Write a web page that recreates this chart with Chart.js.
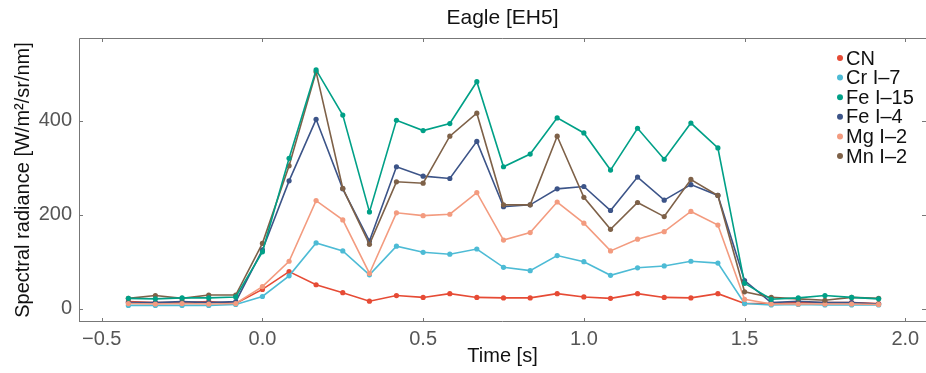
<!DOCTYPE html>
<html>
<head>
<meta charset="utf-8">
<script src="https://cdn.jsdelivr.net/npm/chart.js@4.4.0/dist/chart.umd.min.js"></script>
<style>
  html, body { margin: 0; padding: 0; background: #fff; }
</style>
</head>
<body>
<canvas id="chart" width="926" height="373"></canvas>
<script>
// time of each frame [s]
const times = [-0.417, -0.333, -0.25, -0.167, -0.083, 0, 0.083, 0.167, 0.25, 0.333, 0.417, 0.5, 0.583, 0.667,
  0.75, 0.833, 0.917, 1.0, 1.083, 1.167, 1.25, 1.333, 1.417, 1.5, 1.583, 1.667, 1.75, 1.833, 1.917];

const cn   = [15, 13, 13, 15, 11, 41, 79, 51, 34, 16, 28, 24, 32, 24, 23, 23, 32, 25, 22, 32, 24, 23, 32, 11, 11, 13, 13, 13, 11];
const cr7  = [7, 7, 7, 7, 9, 26, 70, 140, 123, 72, 133, 120, 116, 127, 88, 81, 113, 100, 71, 87, 91, 101, 97, 11, 8, 9, 8, 8, 8];
const fe15 = [22, 21, 23, 23, 25, 121, 320, 508, 412, 206, 401, 379, 394, 483, 302, 329, 406, 374, 295, 384, 318, 395, 342, 54, 20, 23, 28, 24, 21];
const fe4  = [13, 13, 15, 13, 15, 125, 272, 403, 255, 144, 302, 282, 277, 356, 217, 221, 255, 260, 209, 280, 231, 264, 241, 60, 13, 16, 13, 13, 10];
const mg2  = [11, 10, 11, 10, 11, 47, 101, 230, 189, 75, 204, 198, 201, 247, 146, 162, 227, 182, 123, 148, 164, 207, 178, 20, 10, 10, 10, 10, 9];
const mn2  = [22, 28, 22, 29, 29, 139, 304, 504, 256, 137, 270, 267, 367, 416, 221, 221, 367, 237, 169, 226, 196, 275, 241, 36, 24, 21, 18, 24, 22];

const names  = ["CN", "Cr I\u20137", "Fe I\u201315", "Fe I\u20134", "Mg I\u20132", "Mn I\u20132"];
const values = [cn, cr7, fe15, fe4, mg2, mn2];
const colors = ["#E64B35", "#4DBBD5", "#00A087", "#3C5488", "#F39B7F", "#7E6148"];
const drawOrder = [5, 4, 0, 3, 2, 1];

const xTicks = [-0.5, 0, 0.5, 1, 1.5, 2];
const yTicks = [0, 200, 400];

const FONT = "'Liberation Sans', Arial, sans-serif";

function fmt(v) {
  return v.toFixed(1).replace("-", "\u2212");
}

// frame with inward ticks, title and legend inside the plot
const decorations = {
  id: "decorations",
  afterDatasetsDraw(chart) {
    const { ctx, chartArea: a, scales: { x, y } } = chart;
    ctx.save();
    ctx.strokeStyle = "#777";
    ctx.lineWidth = 1;
    ctx.beginPath();
    ctx.moveTo(a.left + 0.5, a.bottom - 0.5);
    ctx.lineTo(a.left + 0.5, a.top + 0.5);
    ctx.lineTo(a.right, a.top + 0.5);
    ctx.moveTo(a.left, a.bottom - 0.5);
    ctx.lineTo(a.right, a.bottom - 0.5);
    xTicks.forEach((v) => {
      const px = Math.round(x.getPixelForValue(v)) + 0.5;
      ctx.moveTo(px, a.top);
      ctx.lineTo(px, a.top + 4);
      ctx.moveTo(px, a.bottom);
      ctx.lineTo(px, a.bottom - 4);
    });
    yTicks.forEach((v) => {
      const py = Math.round(y.getPixelForValue(v)) + 0.5;
      ctx.moveTo(a.left, py);
      ctx.lineTo(a.left + 4, py);
      ctx.moveTo(a.right, py);
      ctx.lineTo(a.right - 4, py);
    });
    ctx.stroke();

    ctx.fillStyle = "#111";
    ctx.font = "21px " + FONT;
    ctx.textAlign = "center";
    ctx.textBaseline = "middle";
    ctx.fillText("Eagle [EH5]", (a.left + a.right) / 2, 18);

    ctx.font = "20px " + FONT;
    ctx.textAlign = "left";
    names.forEach((name, i) => {
      const ly = 58 + i * 19.6;
      ctx.fillStyle = colors[i];
      ctx.beginPath();
      ctx.arc(840, ly, 3, 0, Math.PI * 2);
      ctx.fill();
      ctx.fillStyle = "#111";
      ctx.fillText(name, 846, ly + 1);
    });
    ctx.restore();
  },
};

new Chart(document.getElementById("chart"), {
  type: "line",
  data: {
    datasets: values.map((vals, i) => ({
      label: names[i],
      data: vals.map((v, k) => ({ x: times[k], y: v })),
      borderColor: colors[i],
      backgroundColor: colors[i],
      pointBackgroundColor: colors[i],
      borderWidth: 1.6,
      pointRadius: 2.6,
      pointBorderWidth: 0,
      order: drawOrder[i],
      tension: 0,
    })),
  },
  options: {
    responsive: false,
    animation: false,
    layout: { autoPadding: false, padding: { top: 38, left: 0, right: 0, bottom: 0 } },
    plugins: {
      legend: { display: false },
      title: { display: false },
      tooltip: { enabled: false },
    },
    scales: {
      x: {
        type: "linear",
        min: -0.5706,
        max: 2.0644,
        afterBuildTicks: (s) => { s.ticks = xTicks.map((v) => ({ value: v })); },
        afterFit: (s) => { s.height = 51; s.paddingLeft = 0; s.paddingRight = 0; },
        grid: { display: false, drawTicks: false },
        border: { display: false },
        ticks: {
          font: { family: FONT, size: 20 },
          color: "#555",
          padding: 5,
          maxRotation: 0,
          callback: (v) => fmt(v),
        },
        title: {
          display: true,
          text: "Time [s]",
          font: { family: FONT, size: 20 },
          color: "#111",
          padding: { top: 0, bottom: 5 },
        },
      },
      y: {
        min: -28.3,
        max: 576,
        afterBuildTicks: (s) => { s.ticks = yTicks.map((v) => ({ value: v })); },
        afterFit: (s) => { s.width = 79; s.paddingTop = 0; s.paddingBottom = 0; },
        grid: { display: false, drawTicks: false },
        border: { display: false },
        ticks: {
          font: { family: FONT, size: 20 },
          color: "#555",
          padding: 7,
          callback: (v) => String(v),
        },
        title: {
          display: true,
          text: "Spectral radiance [W/m\u00B2/sr/nm]",
          font: { family: FONT, size: 20 },
          color: "#111",
          padding: { top: 11, bottom: 0 },
        },
      },
    },
  },
  plugins: [decorations],
});
</script>
</body>
</html>
